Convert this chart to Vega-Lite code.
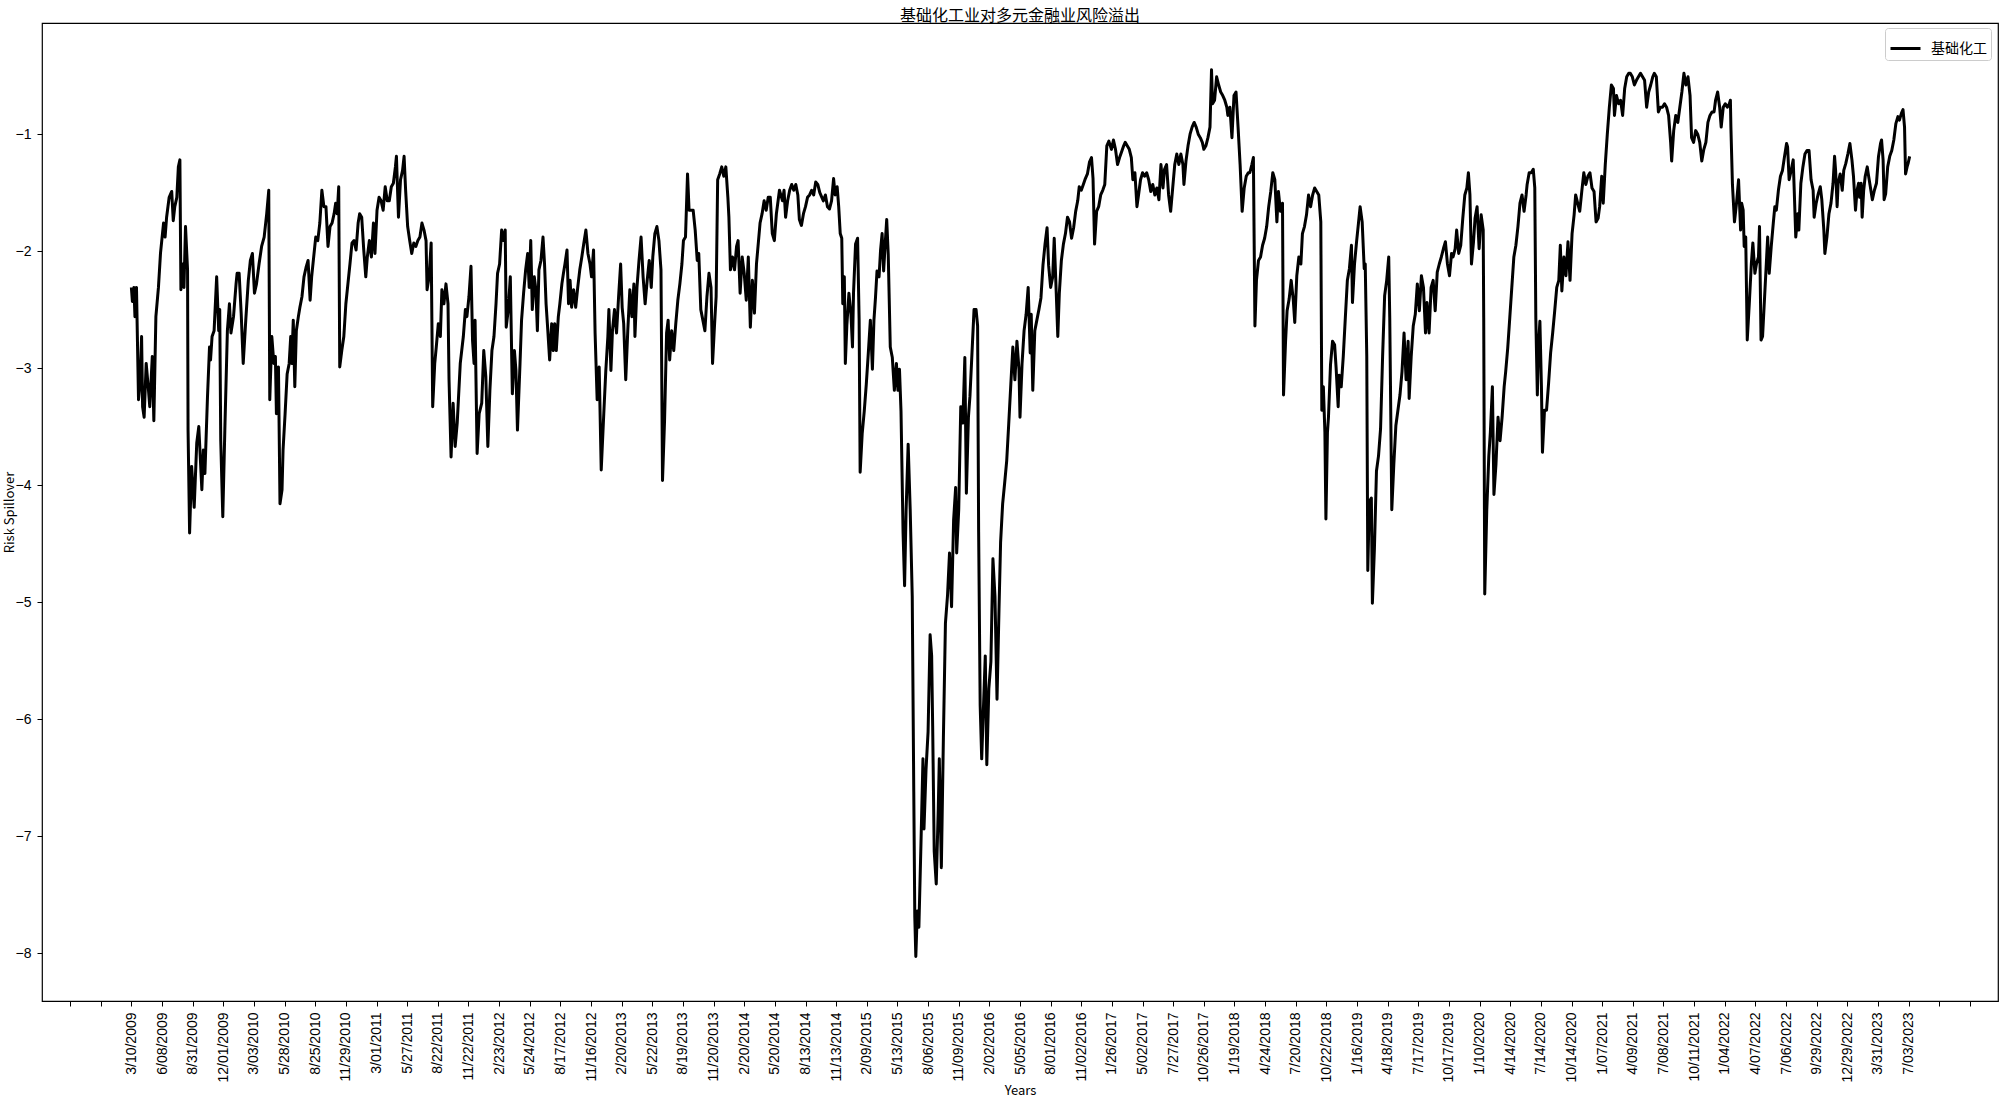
{
"$schema": "https://vega.github.io/schema/vega-lite/v6.json",
"width": 1956, "height": 978,
"autosize": {"type": "none"},
"padding": {"left": 42, "top": 23, "right": 2, "bottom": 97},
"background": "white",
"title": {"text": "基础化工业对多元金融业风险溢出", "font": "Noto Sans CJK SC", "fontSize": 16, "fontWeight": "normal", "color": "black", "anchor": "middle", "offset": 2, "dy": 3},
"data": {"values": [
{"i":0,"v":-2.31},{"i":2,"v":-2.43},{"i":5,"v":-2.31},{"i":7,"v":-2.56},{"i":10,"v":-2.31},{"i":14,"v":-3.27},{"i":17,"v":-3.13},{"i":20,"v":-2.73},{"i":22,"v":-3.33},{"i":25,"v":-3.42},{"i":29,"v":-2.96},{"i":33,"v":-3.16},{"i":36,"v":-3.33},{"i":41,"v":-2.9},{"i":44,"v":-3.45},{"i":48,"v":-2.56},{"i":53,"v":-2.31},{"i":57,"v":-2.02},{"i":63,"v":-1.76},{"i":66,"v":-1.88},{"i":69,"v":-1.71},{"i":74,"v":-1.54},{"i":79,"v":-1.49},{"i":82,"v":-1.74},{"i":85,"v":-1.62},{"i":89,"v":-1.54},{"i":92,"v":-1.28},{"i":95,"v":-1.22},{"i":97,"v":-2.33},{"i":100,"v":-2.11},{"i":103,"v":-2.31},{"i":106,"v":-1.79},{"i":110,"v":-2.16},{"i":111,"v":-3.53},{"i":114,"v":-4.41},{"i":118,"v":-3.84},{"i":123,"v":-4.19},{"i":128,"v":-3.64},{"i":132,"v":-3.5},{"i":138,"v":-4.04},{"i":141,"v":-3.7},{"i":144,"v":-3.9},{"i":149,"v":-3.25},{"i":153,"v":-2.82},{"i":155,"v":-2.93},{"i":158,"v":-2.73},{"i":162,"v":-2.68},{"i":167,"v":-2.22},{"i":171,"v":-2.68},{"i":173,"v":-2.5},{"i":175,"v":-3.62},{"i":179,"v":-4.27},{"i":183,"v":-3.53},{"i":188,"v":-2.68},{"i":192,"v":-2.45},{"i":195,"v":-2.7},{"i":200,"v":-2.56},{"i":205,"v":-2.28},{"i":207,"v":-2.19},{"i":211,"v":-2.19},{"i":215,"v":-2.53},{"i":219,"v":-2.96},{"i":224,"v":-2.59},{"i":229,"v":-2.25},{"i":233,"v":-2.08},{"i":237,"v":-2.02},{"i":241,"v":-2.36},{"i":245,"v":-2.28},{"i":250,"v":-2.11},{"i":255,"v":-1.96},{"i":260,"v":-1.88},{"i":265,"v":-1.68},{"i":269,"v":-1.48},{"i":271,"v":-3.27},{"i":275,"v":-2.73},{"i":279,"v":-2.96},{"i":282,"v":-2.9},{"i":284,"v":-3.39},{"i":288,"v":-2.99},{"i":291,"v":-4.16},{"i":295,"v":-4.04},{"i":297,"v":-3.7},{"i":301,"v":-3.39},{"i":305,"v":-3.05},{"i":309,"v":-2.96},{"i":312,"v":-2.73},{"i":314,"v":-2.96},{"i":317,"v":-2.59},{"i":320,"v":-3.16},{"i":323,"v":-2.68},{"i":327,"v":-2.56},{"i":330,"v":-2.48},{"i":334,"v":-2.39},{"i":338,"v":-2.22},{"i":342,"v":-2.14},{"i":346,"v":-2.08},{"i":350,"v":-2.42},{"i":353,"v":-2.22},{"i":357,"v":-2.05},{"i":361,"v":-1.88},{"i":365,"v":-1.91},{"i":369,"v":-1.76},{"i":373,"v":-1.48},{"i":377,"v":-1.62},{"i":381,"v":-1.62},{"i":385,"v":-1.96},{"i":389,"v":-1.79},{"i":393,"v":-1.76},{"i":397,"v":-1.68},{"i":400,"v":-1.59},{"i":403,"v":-1.68},{"i":406,"v":-1.45},{"i":408,"v":-2.99},{"i":412,"v":-2.85},{"i":416,"v":-2.73},{"i":420,"v":-2.45},{"i":424,"v":-2.28},{"i":428,"v":-2.11},{"i":432,"v":-1.93},{"i":436,"v":-1.91},{"i":440,"v":-1.99},{"i":444,"v":-1.76},{"i":447,"v":-1.68},{"i":451,"v":-1.71},{"i":455,"v":-1.99},{"i":459,"v":-2.22},{"i":462,"v":-2.05},{"i":466,"v":-1.91},{"i":470,"v":-2.05},{"i":474,"v":-1.76},{"i":477,"v":-2.02},{"i":481,"v":-1.65},{"i":485,"v":-1.54},{"i":489,"v":-1.57},{"i":493,"v":-1.65},{"i":497,"v":-1.45},{"i":501,"v":-1.57},{"i":505,"v":-1.57},{"i":509,"v":-1.45},{"i":513,"v":-1.42},{"i":517,"v":-1.28},{"i":519,"v":-1.19},{"i":523,"v":-1.71},{"i":527,"v":-1.39},{"i":531,"v":-1.31},{"i":534,"v":-1.19},{"i":537,"v":-1.48},{"i":541,"v":-1.79},{"i":545,"v":-1.91},{"i":549,"v":-2.02},{"i":553,"v":-1.93},{"i":557,"v":-1.96},{"i":561,"v":-1.91},{"i":565,"v":-1.88},{"i":569,"v":-1.76},{"i":573,"v":-1.82},{"i":577,"v":-1.91},{"i":579,"v":-2.33},{"i":583,"v":-2.22},{"i":587,"v":-1.93},{"i":590,"v":-3.33},{"i":594,"v":-2.96},{"i":597,"v":-2.82},{"i":601,"v":-2.62},{"i":605,"v":-2.73},{"i":608,"v":-2.33},{"i":612,"v":-2.45},{"i":616,"v":-2.28},{"i":620,"v":-2.45},{"i":622,"v":-3.1},{"i":626,"v":-3.76},{"i":630,"v":-3.3},{"i":634,"v":-3.67},{"i":638,"v":-3.47},
{"i":644,"v":-2.96},{"i":650,"v":-2.73},{"i":654,"v":-2.5},{"i":657,"v":-2.56},{"i":661,"v":-2.39},{"i":665,"v":-2.13},{"i":668,"v":-2.76},{"i":671,"v":-2.96},{"i":673,"v":-2.59},{"i":677,"v":-3.73},{"i":681,"v":-3.39},{"i":686,"v":-3.3},{"i":690,"v":-2.85},{"i":694,"v":-3.07},{"i":698,"v":-3.67},{"i":702,"v":-3.19},{"i":706,"v":-2.85},{"i":710,"v":-2.73},{"i":714,"v":-2.45},{"i":717,"v":-2.19},{"i":721,"v":-2.11},{"i":725,"v":-1.82},{"i":729,"v":-1.91},{"i":732,"v":-1.82},{"i":734,"v":-2.65},{"i":738,"v":-2.5},{"i":742,"v":-2.22},{"i":746,"v":-3.22},{"i":750,"v":-2.85},{"i":753,"v":-3.02},{"i":756,"v":-3.53},{"i":761,"v":-2.96},{"i":764,"v":-2.59},{"i":768,"v":-2.36},{"i":772,"v":-2.16},{"i":776,"v":-2.02},{"i":779,"v":-2.31},{"i":782,"v":-1.91},{"i":785,"v":-2.5},{"i":789,"v":-2.22},{"i":792,"v":-2.33},{"i":795,"v":-2.68},{"i":798,"v":-2.16},{"i":802,"v":-2.08},{"i":806,"v":-1.88},{"i":809,"v":-2.11},{"i":812,"v":-2.45},{"i":815,"v":-2.65},{"i":819,"v":-2.93},{"i":823,"v":-2.62},{"i":826,"v":-2.85},{"i":829,"v":-2.62},{"i":832,"v":-2.85},{"i":836,"v":-2.56},{"i":839,"v":-2.45},{"i":843,"v":-2.28},{"i":846,"v":-2.19},{"i":849,"v":-2.11},{"i":853,"v":-1.99},{"i":856,"v":-2.45},{"i":859,"v":-2.25},{"i":862,"v":-2.48},{"i":866,"v":-2.33},{"i":870,"v":-2.48},{"i":874,"v":-2.31},{"i":878,"v":-2.16},{"i":882,"v":-2.05},{"i":886,"v":-1.93},{"i":890,"v":-1.82},{"i":894,"v":-2.02},{"i":898,"v":-2.11},{"i":901,"v":-2.22},{"i":905,"v":-1.99},{"i":908,"v":-2.7},{"i":912,"v":-3.27},{"i":916,"v":-2.99},{"i":920,"v":-3.87},{"i":925,"v":-3.39},{"i":929,"v":-3.02},{"i":933,"v":-2.73},{"i":935,"v":-2.5},{"i":939,"v":-3.02},{"i":942,"v":-2.68},{"i":946,"v":-2.5},{"i":950,"v":-2.7},{"i":954,"v":-2.39},{"i":958,"v":-2.11},{"i":961,"v":-2.48},{"i":964,"v":-2.62},{"i":968,"v":-3.1},{"i":972,"v":-2.68},{"i":976,"v":-2.33},{"i":980,"v":-2.56},{"i":984,"v":-2.28},{"i":986,"v":-2.73},{"i":990,"v":-2.31},{"i":994,"v":-2.08},{"i":998,"v":-1.88},{"i":1002,"v":-2.22},{"i":1006,"v":-2.45},{"i":1010,"v":-2.25},{"i":1014,"v":-2.08},{"i":1018,"v":-2.31},{"i":1021,"v":-2.05},{"i":1025,"v":-1.85},{"i":1029,"v":-1.79},{"i":1033,"v":-1.91},{"i":1037,"v":-2.16},{"i":1040,"v":-3.96},{"i":1044,"v":-3.45},{"i":1048,"v":-2.7},{"i":1051,"v":-2.59},{"i":1054,"v":-2.93},{"i":1058,"v":-2.68},{"i":1062,"v":-2.85},{"i":1066,"v":-2.62},{"i":1070,"v":-2.42},{"i":1074,"v":-2.28},{"i":1078,"v":-2.11},{"i":1081,"v":-1.91},{"i":1085,"v":-1.88},{"i":1089,"v":-1.34},{"i":1092,"v":-1.65},{"i":1096,"v":-1.65},{"i":1100,"v":-1.65},{"i":1104,"v":-1.82},{"i":1108,"v":-2.08},{"i":1111,"v":-2.02},{"i":1115,"v":-2.5},{"i":1119,"v":-2.59},{"i":1123,"v":-2.68},{"i":1127,"v":-2.39},{"i":1131,"v":-2.19},{"i":1135,"v":-2.31},{"i":1138,"v":-2.96},{"i":1142,"v":-2.62},{"i":1145,"v":-2.39},{"i":1148,"v":-1.39},{"i":1152,"v":-1.34},{"i":1156,"v":-1.28},{"i":1160,"v":-1.36},{"i":1164,"v":-1.28},{"i":1168,"v":-1.54},{"i":1170,"v":-1.71},{"i":1173,"v":-2.16},{"i":1177,"v":-2.05},{"i":1181,"v":-2.16},{"i":1185,"v":-1.96},{"i":1188,"v":-1.91},{"i":1192,"v":-2.36},{"i":1196,"v":-2.05},{"i":1200,"v":-2.19},{"i":1204,"v":-2.42},{"i":1208,"v":-2.05},{"i":1212,"v":-2.65},{"i":1216,"v":-2.25},{"i":1220,"v":-2.53},{"i":1224,"v":-2.11},{"i":1228,"v":-1.91},{"i":1231,"v":-1.76},{"i":1235,"v":-1.68},{"i":1239,"v":-1.57},{"i":1243,"v":-1.65},{"i":1247,"v":-1.54},{"i":1251,"v":-1.54},{"i":1255,"v":-1.85},{"i":1259,"v":-1.91},{"i":1263,"v":-1.68},
{"i":1269,"v":-1.48},{"i":1275,"v":-1.57},{"i":1278,"v":-1.48},{"i":1281,"v":-1.71},{"i":1285,"v":-1.57},{"i":1289,"v":-1.48},{"i":1293,"v":-1.43},{"i":1297,"v":-1.48},{"i":1301,"v":-1.43},{"i":1305,"v":-1.52},{"i":1308,"v":-1.73},{"i":1312,"v":-1.78},{"i":1316,"v":-1.68},{"i":1320,"v":-1.62},{"i":1324,"v":-1.54},{"i":1328,"v":-1.52},{"i":1332,"v":-1.48},{"i":1336,"v":-1.52},{"i":1340,"v":-1.41},{"i":1344,"v":-1.43},{"i":1348,"v":-1.5},{"i":1352,"v":-1.54},{"i":1355,"v":-1.57},{"i":1359,"v":-1.52},{"i":1363,"v":-1.62},{"i":1367,"v":-1.64},{"i":1371,"v":-1.57},{"i":1375,"v":-1.38},{"i":1378,"v":-1.52},{"i":1382,"v":-1.45},{"i":1385,"v":-1.62},{"i":1388,"v":-1.85},{"i":1391,"v":-1.89},{"i":1393,"v":-2.45},{"i":1396,"v":-2.22},{"i":1398,"v":-2.96},{"i":1401,"v":-2.63},{"i":1405,"v":-2.36},{"i":1409,"v":-2.54},{"i":1412,"v":-2.82},{"i":1414,"v":-2.36},{"i":1418,"v":-1.94},{"i":1422,"v":-1.89},{"i":1425,"v":-2.59},{"i":1427,"v":-3.89},{"i":1431,"v":-3.56},{"i":1435,"v":-3.37},{"i":1439,"v":-3.14},{"i":1443,"v":-2.87},{"i":1447,"v":-2.59},{"i":1451,"v":-3.01},{"i":1454,"v":-2.59},{"i":1457,"v":-2.4},{"i":1460,"v":-2.17},{"i":1464,"v":-2.22},{"i":1467,"v":-1.99},{"i":1470,"v":-1.85},{"i":1473,"v":-2.17},{"i":1476,"v":-1.94},{"i":1479,"v":-1.73},{"i":1482,"v":-2.03},{"i":1486,"v":-2.82},{"i":1490,"v":-2.91},{"i":1494,"v":-3.19},{"i":1498,"v":-2.96},{"i":1501,"v":-3.19},{"i":1504,"v":-3.01},{"i":1507,"v":-3.37},{"i":1511,"v":-4.4},{"i":1514,"v":-4.86},{"i":1517,"v":-4.21},{"i":1521,"v":-3.65},{"i":1525,"v":-4.21},{"i":1529,"v":-4.95},{"i":1532,"v":-6.62},{"i":1534,"v":-7.69},{"i":1536,"v":-8.03},{"i":1539,"v":-7.64},{"i":1542,"v":-7.78},{"i":1546,"v":-7.08},{"i":1550,"v":-6.34},{"i":1552,"v":-6.94},{"i":1556,"v":-6.43},{"i":1560,"v":-6.11},{"i":1564,"v":-5.28},{"i":1567,"v":-5.46},{"i":1569,"v":-6.06},{"i":1572,"v":-7.13},{"i":1576,"v":-7.41},{"i":1580,"v":-6.76},{"i":1582,"v":-6.34},{"i":1586,"v":-7.27},{"i":1590,"v":-6.16},{"i":1594,"v":-5.18},{"i":1598,"v":-4.95},{"i":1602,"v":-4.58},{"i":1606,"v":-5.04},{"i":1610,"v":-4.3},{"i":1614,"v":-4.02},{"i":1616,"v":-4.58},{"i":1620,"v":-4.21},{"i":1624,"v":-3.33},{"i":1628,"v":-3.47},{"i":1632,"v":-2.91},{"i":1635,"v":-4.07},{"i":1639,"v":-3.42},{"i":1642,"v":-3.24},{"i":1646,"v":-2.87},{"i":1650,"v":-2.5},{"i":1654,"v":-2.5},{"i":1657,"v":-2.64},{"i":1659,"v":-4.4},{"i":1662,"v":-5.88},{"i":1665,"v":-6.34},{"i":1669,"v":-5.83},{"i":1672,"v":-5.46},{"i":1675,"v":-6.39},{"i":1679,"v":-5.74},{"i":1683,"v":-5.51},{"i":1687,"v":-4.63},{"i":1691,"v":-4.95},{"i":1695,"v":-5.83},{"i":1699,"v":-5.04},{"i":1702,"v":-4.49},{"i":1706,"v":-4.16},{"i":1710,"v":-3.98},{"i":1714,"v":-3.79},{"i":1718,"v":-3.47},{"i":1722,"v":-3.14},{"i":1726,"v":-2.82},{"i":1730,"v":-3.1},{"i":1734,"v":-2.77},{"i":1738,"v":-3.01},{"i":1740,"v":-3.42},{"i":1744,"v":-2.96},{"i":1748,"v":-2.68},{"i":1752,"v":-2.54},{"i":1756,"v":-2.31},{"i":1760,"v":-2.87},{"i":1762,"v":-2.54},{"i":1765,"v":-3.19},{"i":1769,"v":-2.68},{"i":1773,"v":-2.59},{"i":1777,"v":-2.5},{"i":1781,"v":-2.4},{"i":1785,"v":-2.12},{"i":1789,"v":-1.94},{"i":1793,"v":-1.8},{"i":1796,"v":-2.12},{"i":1800,"v":-2.31},{"i":1804,"v":-2.22},{"i":1807,"v":-1.89},{"i":1811,"v":-2.36},{"i":1814,"v":-2.73},{"i":1817,"v":-2.36},{"i":1821,"v":-2.08},{"i":1825,"v":-1.94},{"i":1829,"v":-1.85},{"i":1833,"v":-1.71},{"i":1837,"v":-1.75},{"i":1841,"v":-1.89},{"i":1845,"v":-1.8},{"i":1849,"v":-1.66},{"i":1853,"v":-1.57},{"i":1856,"v":-1.45},{"i":1860,"v":-1.48},{"i":1864,"v":-1.43},{"i":1868,"v":-1.38},{"i":1872,"v":-1.34},{"i":1876,"v":-1.24},{"i":1880,"v":-1.2},{"i":1883,"v":-1.38},{"i":1886,"v":-1.94},{"i":1890,"v":-1.66},{"i":1894,"v":-1.62},{"i":1898,"v":-1.52},{"i":1902,"v":-1.48},{"i":1906,"v":-1.43},{"i":1910,"v":-1.1},{"i":1914,"v":-1.06},
{"i":1919,"v":-1.13},{"i":1923,"v":-1.05},{"i":1927,"v":-1.13},{"i":1931,"v":-1.26},{"i":1935,"v":-1.2},{"i":1939,"v":-1.15},{"i":1943,"v":-1.1},{"i":1946,"v":-1.07},{"i":1950,"v":-1.1},{"i":1954,"v":-1.13},{"i":1958,"v":-1.2},{"i":1961,"v":-1.39},{"i":1965,"v":-1.33},{"i":1969,"v":-1.62},{"i":1973,"v":-1.49},{"i":1976,"v":-1.39},{"i":1980,"v":-1.33},{"i":1984,"v":-1.36},{"i":1988,"v":-1.33},{"i":1992,"v":-1.39},{"i":1996,"v":-1.49},{"i":2000,"v":-1.43},{"i":2004,"v":-1.52},{"i":2008,"v":-1.46},{"i":2012,"v":-1.56},{"i":2016,"v":-1.26},{"i":2020,"v":-1.46},{"i":2023,"v":-1.3},{"i":2027,"v":-1.26},{"i":2031,"v":-1.52},{"i":2035,"v":-1.66},{"i":2039,"v":-1.46},{"i":2043,"v":-1.26},{"i":2047,"v":-1.17},{"i":2051,"v":-1.26},{"i":2055,"v":-1.17},{"i":2059,"v":-1.26},{"i":2061,"v":-1.43},{"i":2065,"v":-1.23},{"i":2069,"v":-1.1},{"i":2073,"v":-1.0},{"i":2077,"v":-0.94},{"i":2081,"v":-0.9},{"i":2085,"v":-0.94},{"i":2089,"v":-1.0},{"i":2093,"v":-1.03},{"i":2097,"v":-1.07},{"i":2100,"v":-1.13},{"i":2104,"v":-1.1},{"i":2108,"v":-1.03},{"i":2112,"v":-0.94},{"i":2115,"v":-0.45},{"i":2117,"v":-0.74},{"i":2121,"v":-0.71},{"i":2125,"v":-0.51},{"i":2129,"v":-0.58},{"i":2133,"v":-0.64},{"i":2137,"v":-0.67},{"i":2141,"v":-0.71},{"i":2145,"v":-0.77},{"i":2147,"v":-0.84},{"i":2151,"v":-0.77},{"i":2155,"v":-1.03},{"i":2159,"v":-0.67},{"i":2163,"v":-0.64},{"i":2167,"v":-0.94},{"i":2171,"v":-1.26},{"i":2175,"v":-1.66},{"i":2179,"v":-1.46},{"i":2183,"v":-1.36},{"i":2187,"v":-1.33},{"i":2190,"v":-1.33},{"i":2194,"v":-1.26},{"i":2197,"v":-1.2},{"i":2200,"v":-2.64},{"i":2203,"v":-2.25},{"i":2207,"v":-2.08},{"i":2211,"v":-2.05},{"i":2215,"v":-1.95},{"i":2219,"v":-1.89},{"i":2223,"v":-1.79},{"i":2227,"v":-1.62},{"i":2231,"v":-1.49},{"i":2235,"v":-1.33},{"i":2239,"v":-1.39},{"i":2243,"v":-1.75},{"i":2246,"v":-1.49},{"i":2250,"v":-1.66},{"i":2254,"v":-1.59},{"i":2256,"v":-3.23},{"i":2260,"v":-2.77},{"i":2263,"v":-2.51},{"i":2267,"v":-2.41},{"i":2271,"v":-2.25},{"i":2275,"v":-2.41},{"i":2278,"v":-2.61},{"i":2282,"v":-2.21},{"i":2286,"v":-2.05},{"i":2290,"v":-2.11},{"i":2293,"v":-1.85},{"i":2297,"v":-1.79},{"i":2301,"v":-1.69},{"i":2305,"v":-1.52},{"i":2309,"v":-1.62},{"i":2313,"v":-1.52},{"i":2317,"v":-1.46},{"i":2321,"v":-1.49},{"i":2325,"v":-1.52},{"i":2329,"v":-1.75},{"i":2331,"v":-3.36},{"i":2334,"v":-3.16},{"i":2337,"v":-3.55},{"i":2339,"v":-4.29},{"i":2342,"v":-3.55},{"i":2344,"v":-3.42},{"i":2348,"v":-2.97},{"i":2352,"v":-2.77},{"i":2356,"v":-2.8},{"i":2359,"v":-3.0},{"i":2363,"v":-3.33},{"i":2365,"v":-3.06},{"i":2369,"v":-3.16},{"i":2373,"v":-2.9},{"i":2377,"v":-2.57},{"i":2381,"v":-2.25},{"i":2385,"v":-2.15},{"i":2389,"v":-1.95},{"i":2391,"v":-2.44},{"i":2395,"v":-2.11},{"i":2399,"v":-1.92},{"i":2403,"v":-1.75},{"i":2406,"v":-1.62},{"i":2410,"v":-1.75},{"i":2414,"v":-2.15},{"i":2416,"v":-2.11},{"i":2419,"v":-2.9},{"i":2421,"v":-4.73},{"i":2424,"v":-4.14},{"i":2428,"v":-4.11},{"i":2430,"v":-5.01},{"i":2434,"v":-4.54},{"i":2438,"v":-3.88},{"i":2442,"v":-3.75},{"i":2446,"v":-3.52},{"i":2450,"v":-2.9},{"i":2454,"v":-2.38},{"i":2458,"v":-2.25},{"i":2462,"v":-2.05},{"i":2464,"v":-2.57},{"i":2468,"v":-4.21},{"i":2472,"v":-3.82},{"i":2476,"v":-3.49},{"i":2480,"v":-3.36},{"i":2484,"v":-3.23},{"i":2488,"v":-3.03},{"i":2492,"v":-2.7},{"i":2496,"v":-3.1},{"i":2500,"v":-2.77},{"i":2502,"v":-3.26},{"i":2506,"v":-2.9},{"i":2510,"v":-2.64},{"i":2514,"v":-2.54},{"i":2518,"v":-2.28},{"i":2522,"v":-2.51},{"i":2526,"v":-2.21},{"i":2530,"v":-2.31},{"i":2534,"v":-2.7},{"i":2537,"v":-2.44},
{"i":2541,"v":-2.7},{"i":2545,"v":-2.31},{"i":2549,"v":-2.25},{"i":2553,"v":-2.51},{"i":2557,"v":-2.18},{"i":2561,"v":-2.11},{"i":2565,"v":-2.05},{"i":2569,"v":-1.98},{"i":2573,"v":-1.92},{"i":2577,"v":-2.11},{"i":2581,"v":-2.21},{"i":2585,"v":-2.02},{"i":2588,"v":-2.05},{"i":2592,"v":-1.98},{"i":2595,"v":-1.82},{"i":2599,"v":-2.02},{"i":2603,"v":-1.95},{"i":2607,"v":-1.72},{"i":2611,"v":-1.52},{"i":2615,"v":-1.46},{"i":2618,"v":-1.33},{"i":2621,"v":-1.52},{"i":2624,"v":-2.11},{"i":2628,"v":-1.92},{"i":2631,"v":-1.72},{"i":2635,"v":-1.62},{"i":2639,"v":-1.98},{"i":2643,"v":-1.69},{"i":2647,"v":-1.82},{"i":2648,"v":-2.57},{"i":2650,"v":-4.93},{"i":2654,"v":-4.21},{"i":2658,"v":-3.75},{"i":2661,"v":-3.55},{"i":2665,"v":-3.16},{"i":2668,"v":-4.08},{"i":2672,"v":-3.82},{"i":2676,"v":-3.42},{"i":2680,"v":-3.62},{"i":2684,"v":-3.42},{"i":2688,"v":-3.16},{"i":2691,"v":-3.03},{"i":2695,"v":-2.83},{"i":2699,"v":-2.57},{"i":2703,"v":-2.31},{"i":2707,"v":-2.05},{"i":2711,"v":-1.95},{"i":2715,"v":-1.79},{"i":2719,"v":-1.59},{"i":2723,"v":-1.52},{"i":2727,"v":-1.66},{"i":2731,"v":-1.52},{"i":2733,"v":-1.43},{"i":2737,"v":-1.33},{"i":2741,"v":-1.33},{"i":2745,"v":-1.3},{"i":2748,"v":-1.46},{"i":2750,"v":-2.57},{"i":2753,"v":-3.23},{"i":2755,"v":-2.83},{"i":2758,"v":-2.6},{"i":2761,"v":-3.16},{"i":2763,"v":-3.72},{"i":2767,"v":-3.36},{"i":2771,"v":-3.36},{"i":2775,"v":-3.13},{"i":2779,"v":-2.87},{"i":2783,"v":-2.7},{"i":2787,"v":-2.51},{"i":2791,"v":-2.31},{"i":2795,"v":-2.25},{"i":2798,"v":-1.95},{"i":2801,"v":-2.34},{"i":2805,"v":-2.05},{"i":2809,"v":-2.21},{"i":2813,"v":-1.92},{"i":2817,"v":-2.25},{"i":2821,"v":-1.85},{"i":2825,"v":-1.69},{"i":2828,"v":-1.52},{"i":2832,"v":-1.59},{"i":2836,"v":-1.66},{"i":2840,"v":-1.49},{"i":2844,"v":-1.33},{"i":2848,"v":-1.43},{"i":2852,"v":-1.36},{"i":2856,"v":-1.33},{"i":2860,"v":-1.46},{"i":2864,"v":-1.49},{"i":2868,"v":-1.75},{"i":2872,"v":-1.72},{"i":2875,"v":-1.62},{"i":2879,"v":-1.36},{"i":2882,"v":-1.59},{"i":2886,"v":-1.26},{"i":2890,"v":-1.0},{"i":2894,"v":-0.77},{"i":2898,"v":-0.58},{"i":2902,"v":-0.61},{"i":2904,"v":-0.84},{"i":2908,"v":-0.67},{"i":2912,"v":-0.74},{"i":2916,"v":-0.71},{"i":2920,"v":-0.84},{"i":2924,"v":-0.61},{"i":2928,"v":-0.51},{"i":2932,"v":-0.48},{"i":2935,"v":-0.48},{"i":2939,"v":-0.51},{"i":2943,"v":-0.58},{"i":2947,"v":-0.54},{"i":2951,"v":-0.51},{"i":2955,"v":-0.48},{"i":2959,"v":-0.51},{"i":2963,"v":-0.54},{"i":2967,"v":-0.77},{"i":2971,"v":-0.64},{"i":2975,"v":-0.58},{"i":2979,"v":-0.51},{"i":2982,"v":-0.48},{"i":2986,"v":-0.51},{"i":2990,"v":-0.81},{"i":2994,"v":-0.77},{"i":2998,"v":-0.77},{"i":3002,"v":-0.74},{"i":3006,"v":-0.77},{"i":3010,"v":-0.84},{"i":3014,"v":-1.07},{"i":3016,"v":-1.23},{"i":3020,"v":-0.97},{"i":3024,"v":-0.84},{"i":3028,"v":-0.9},{"i":3032,"v":-0.77},{"i":3036,"v":-0.64},{"i":3040,"v":-0.48},{"i":3044,"v":-0.58},{"i":3048,"v":-0.51},{"i":3052,"v":-0.67},{"i":3055,"v":-1.03},{"i":3059,"v":-1.07},{"i":3063,"v":-0.97},{"i":3067,"v":-1.0},{"i":3071,"v":-1.07},{"i":3075,"v":-1.23},{"i":3079,"v":-1.13},{"i":3083,"v":-1.07},{"i":3087,"v":-0.9},{"i":3091,"v":-0.84},{"i":3095,"v":-0.81},{"i":3099,"v":-0.81},{"i":3102,"v":-0.71},{"i":3106,"v":-0.64},{"i":3110,"v":-0.77},{"i":3113,"v":-0.94},{"i":3117,"v":-0.77},{"i":3121,"v":-0.74},{"i":3125,"v":-0.77},{"i":3129,"v":-0.74},{"i":3131,"v":-0.71},{"i":3132,"v":-0.94},{"i":3135,"v":-1.43},{"i":3139,"v":-1.75},{"i":3143,"v":-1.59},{"i":3147,"v":-1.39},
{"i":3151,"v":-1.82},{"i":3153,"v":-1.59},{"i":3156,"v":-1.65},{"i":3158,"v":-1.96},{"i":3161,"v":-1.88},{"i":3164,"v":-2.76},{"i":3168,"v":-2.45},{"i":3172,"v":-2.11},{"i":3175,"v":-1.93},{"i":3179,"v":-2.19},{"i":3182,"v":-2.11},{"i":3186,"v":-2.05},{"i":3188,"v":-1.79},{"i":3191,"v":-2.76},{"i":3194,"v":-2.73},{"i":3198,"v":-2.39},{"i":3202,"v":-2.05},{"i":3204,"v":-1.88},{"i":3207,"v":-2.19},{"i":3211,"v":-1.96},{"i":3215,"v":-1.76},{"i":3218,"v":-1.62},{"i":3221,"v":-1.65},{"i":3225,"v":-1.48},{"i":3229,"v":-1.36},{"i":3233,"v":-1.31},{"i":3237,"v":-1.19},{"i":3241,"v":-1.08},{"i":3243,"v":-1.11},{"i":3246,"v":-1.39},{"i":3250,"v":-1.31},{"i":3254,"v":-1.22},{"i":3256,"v":-1.48},{"i":3259,"v":-1.88},{"i":3263,"v":-1.68},{"i":3265,"v":-1.82},{"i":3269,"v":-1.42},{"i":3273,"v":-1.28},{"i":3277,"v":-1.17},{"i":3281,"v":-1.14},{"i":3285,"v":-1.14},{"i":3289,"v":-1.39},{"i":3293,"v":-1.48},{"i":3295,"v":-1.71},{"i":3299,"v":-1.59},{"i":3303,"v":-1.51},{"i":3307,"v":-1.45},{"i":3310,"v":-1.56},{"i":3314,"v":-1.82},{"i":3316,"v":-2.02},{"i":3320,"v":-1.88},{"i":3324,"v":-1.68},{"i":3328,"v":-1.59},{"i":3332,"v":-1.42},{"i":3335,"v":-1.19},{"i":3337,"v":-1.31},{"i":3340,"v":-1.62},{"i":3342,"v":-1.42},{"i":3346,"v":-1.34},{"i":3350,"v":-1.48},{"i":3353,"v":-1.31},{"i":3357,"v":-1.25},{"i":3361,"v":-1.17},{"i":3365,"v":-1.08},{"i":3369,"v":-1.22},{"i":3372,"v":-1.36},{"i":3376,"v":-1.65},{"i":3379,"v":-1.48},{"i":3382,"v":-1.42},{"i":3384,"v":-1.54},{"i":3387,"v":-1.42},{"i":3389,"v":-1.71},{"i":3392,"v":-1.48},{"i":3395,"v":-1.36},{"i":3399,"v":-1.28},{"i":3401,"v":-1.34},{"i":3405,"v":-1.45},{"i":3409,"v":-1.56},{"i":3413,"v":-1.48},{"i":3417,"v":-1.42},{"i":3421,"v":-1.19},{"i":3425,"v":-1.08},{"i":3427,"v":-1.05},{"i":3430,"v":-1.22},{"i":3432,"v":-1.56},{"i":3435,"v":-1.51},{"i":3439,"v":-1.28},{"i":3443,"v":-1.19},{"i":3447,"v":-1.14},{"i":3451,"v":-1.05},{"i":3455,"v":-0.91},{"i":3459,"v":-0.85},{"i":3462,"v":-0.88},{"i":3466,"v":-0.82},{"i":3469,"v":-0.79},{"i":3472,"v":-0.94},{"i":3474,"v":-1.34},{"i":3477,"v":-1.28},{"i":3479,"v":-1.25},{"i":3482,"v":-1.19}
]},
"mark": {"type": "line", "strokeWidth": 3, "strokeJoin": "round"},
"encoding": {
  "x": {"field": "i", "type": "quantitative",
    "scale": {"domain": [-175, 3655], "nice": false, "zero": false},
    "axis": {"title": "Years",
      "values": [-120,-60,0,60,120,180,240,300,360,420,480,540,600,660,720,780,840,900,960,1020,1080,1140,1200,1260,1320,1380,1440,1500,1560,1620,1680,1740,1800,1860,1920,1980,2040,2100,2160,2220,2280,2340,2400,2460,2520,2580,2640,2700,2760,2820,2880,2940,3000,3060,3120,3180,3240,3300,3360,3420,3480,3540,3600],
      "labelExpr": "datum.value < 0 || datum.value > 3480 ? '' : ['3/10/2009','6/08/2009','8/31/2009','12/01/2009','3/03/2010','5/28/2010','8/25/2010','11/29/2010','3/01/2011','5/27/2011','8/22/2011','11/22/2011','2/23/2012','5/24/2012','8/17/2012','11/16/2012','2/20/2013','5/22/2013','8/19/2013','11/20/2013','2/20/2014','5/20/2014','8/13/2014','11/13/2014','2/09/2015','5/13/2015','8/06/2015','11/09/2015','2/02/2016','5/05/2016','8/01/2016','11/02/2016','1/26/2017','5/02/2017','7/27/2017','10/26/2017','1/19/2018','4/24/2018','7/20/2018','10/22/2018','1/16/2019','4/18/2019','7/17/2019','10/17/2019','1/10/2020','4/14/2020','7/14/2020','10/14/2020','1/07/2021','4/09/2021','7/08/2021','10/11/2021','1/04/2022','4/07/2022','7/06/2022','9/29/2022','12/29/2022','3/31/2023','7/03/2023'][round(datum.value/60)]",
      "labelAngle": 270, "labelOverlap": false, "labelFlush": false,
      "titleY": 89, "titleBaseline": "middle", "titleFontSize": 13}},
  "y": {"field": "v", "type": "quantitative",
    "scale": {"domain": [-8.41, -0.05], "nice": false, "zero": false},
    "axis": {"title": "Risk Spillover", "values": [-1,-2,-3,-4,-5,-6,-7,-8],
      "titleX": -33, "titleY": 489, "titleAlign": "center", "titleBaseline": "middle", "titleAngle": 270, "titleFontSize": 13}},
  "color": {"datum": "基础化工", "type": "nominal", "scale": {"range": ["#000000"]},
    "legend": {"title": null, "orient": "none", "legendX": 1843, "legendY": 5}}
},
"config": {
  "view": {"stroke": "#000000", "strokeWidth": 1.2},
  "axis": {"grid": false, "domain": false, "tickColor": "#000000", "tickSize": 5, "tickWidth": 1,
    "labelFont": "Liberation Sans", "labelFontSize": 14, "labelColor": "#000000", "labelPadding": 6,
    "titleFont": "Noto Sans CJK SC", "titleFontSize": 14, "titleFontWeight": "normal", "titleColor": "#000000"},
  "legend": {"symbolType": "stroke", "symbolSize": 900, "symbolStrokeWidth": 3, "symbolStrokeColor": "#000000",
    "labelFont": "Noto Sans CJK SC", "labelFontSize": 14, "labelColor": "#000000", "labelOffset": 9,
    "padding": 4, "strokeColor": "#cccccc", "fillColor": "#ffffff", "cornerRadius": 3}
}
}
